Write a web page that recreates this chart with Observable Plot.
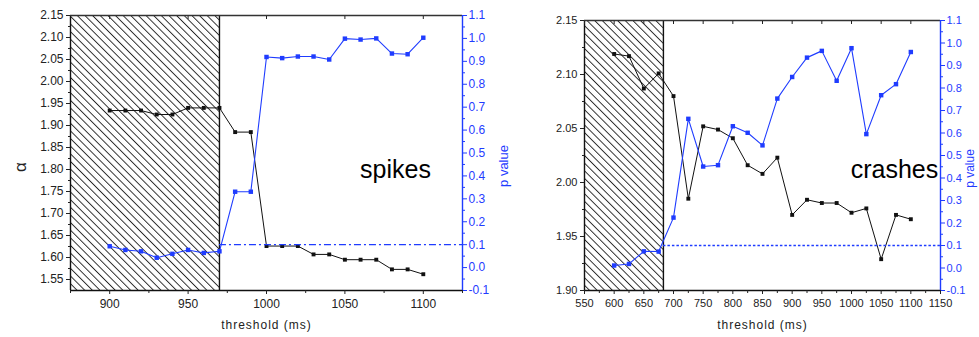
<!DOCTYPE html>
<html><head><meta charset="utf-8">
<script src="https://cdn.jsdelivr.net/npm/d3@7"></script>
<script src="https://cdn.jsdelivr.net/npm/@observablehq/plot@0.6"></script>
<style>
body{margin:0;background:#fff;}
#wrap{position:relative;width:979px;height:337px;overflow:hidden;background:#fff;}
#wrap svg{position:absolute;top:0;}
</style></head><body>
<svg width="0" height="0" style="position:absolute"><defs>
<pattern id="hatch" patternUnits="userSpaceOnUse" width="5.4" height="10" patternTransform="rotate(-45)">
<line x1="0.5" y1="-1" x2="0.5" y2="11" stroke="#111" stroke-width="0.9"/></pattern></defs></svg>
<div id="wrap"></div>
<script>
// ---------- data ----------
const spikesThreshold = [900,910,920,930,940,950,960,970,980,990,1000,1010,1020,1030,1040,1050,1060,1070,1080,1090,1100];
const spikesAlpha = [1.934,1.934,1.934,1.925,1.925,1.940,1.940,1.940,1.885,1.885,1.626,1.626,1.626,1.607,1.607,1.595,1.595,1.595,1.573,1.573,1.562];
const spikesP = [0.093,0.077,0.071,0.043,0.060,0.077,0.064,0.071,0.331,0.331,0.919,0.914,0.921,0.921,0.908,0.999,0.995,1.000,0.934,0.931,1.003];
const crashesThreshold = [600,625,650,675,700,725,750,775,800,825,850,875,900,925,950,975,1000,1025,1050,1075,1100];
const crashesAlpha = [2.119,2.117,2.087,2.101,2.080,1.985,2.052,2.049,2.041,2.016,2.008,2.023,1.970,1.984,1.981,1.981,1.972,1.976,1.929,1.970,1.966];
const crashesP = [0.011,0.018,0.074,0.073,0.224,0.663,0.451,0.457,0.630,0.601,0.545,0.753,0.849,0.935,0.965,0.832,0.977,0.595,0.768,0.817,0.960];

const spikesXDomain = [875,1125];
const spikesAlphaDomain = [1.525,2.15];
const crashesXDomain = [550,1150];
const crashesAlphaDomain = [1.90,2.15];
const pDomain = [-0.1,1.1];

const spikesExcluded = [875,970];
const crashesExcluded = [550,683];
const significance = [0.1];

const spikesXTicks = [900,950,1000,1050,1100];
const spikesXMinor = [875,925,975,1025,1075,1125];
const crashesXTicks = [550,600,650,700,750,800,850,900,950,1000,1050,1100,1150];
const crashesXMinor = [575,625,675,725,775,825,875,925,975,1025,1075,1125];
const spikesAlphaTicks = [1.55,1.60,1.65,1.70,1.75,1.80,1.85,1.90,1.95,2.00,2.05,2.10,2.15];
const spikesAlphaMinor = [1.575,1.625,1.675,1.725,1.775,1.825,1.875,1.925,1.975,2.025,2.075,2.125];
const crashesAlphaTicks = [1.90,1.95,2.00,2.05,2.10,2.15];
const crashesAlphaMinor = [1.925,1.975,2.025,2.075,2.125];
const pTicks = [-0.1,0.0,0.1,0.2,0.3,0.4,0.5,0.6,0.7,0.8,0.9,1.0,1.1];
const pMinor = [-0.05,0.05,0.15,0.25,0.35,0.45,0.55,0.65,0.75,0.85,0.95,1.05];

const xTitle = "threshold (ms)";
const alphaTitle = "α";
const pTitle = "p value";

// ---------- drawing ----------
const BLUE = "#1f3cff";
const INK = "#111";
const FONT = "'Liberation Sans', Arial, sans-serif";
const wrap = document.getElementById("wrap");

function panel(cfg) {
  const common = {
    width: cfg.width, height: 337,
    marginLeft: cfg.mL, marginRight: cfg.mR, marginTop: cfg.mT, marginBottom: cfg.mB
  };
  const rows = cfg.thresholds.map((t, i) => ({t, a: cfg.alpha[i], p: cfg.p[i]}));
  const [x0, x1] = cfg.xDomain;
  const [y0, y1] = cfg.yDomain;
  const marks = [
    Plot.rect([cfg.excluded], {x1: d => d[0], x2: d => d[1], y1: y0, y2: y1, fill: "url(#hatch)"}),
    Plot.ruleX([cfg.excluded[1]], {stroke: INK, strokeWidth: 1.4}),
    Plot.ruleX([x0], {stroke: INK, strokeWidth: 1.4}),
    Plot.ruleY([y0], {stroke: INK, strokeWidth: 1.4}),
    Plot.ruleY([y1], {stroke: "#333", strokeWidth: 1.6}),
    Plot.axisY(cfg.yTicks, {tickSize: 4, tickPadding: 3, tickFormat: d => d.toFixed(2), label: null}),
    Plot.axisY(cfg.yMinor, {tickSize: 2, tickFormat: () => "", label: null}),
    Plot.axisX(cfg.xTicks, {tickSize: 4, tickPadding: 5, tickFormat: d => String(d), label: null}),
    Plot.axisX(cfg.xMinor, {tickSize: 3, tickFormat: () => "", label: null}),
    Plot.axisX(cfg.xTicks, {anchor: "top", tickSize: -3, tickFormat: () => "", label: null}),
    Plot.line(rows, {x: "t", y: "a", stroke: INK, strokeWidth: 1}),
    Plot.dot(rows, {x: "t", y: "a", symbol: "square", r: 2.2, fill: INK, stroke: "none"}),
    Plot.text([cfg.name], {frameAnchor: "right", textAnchor: "middle", lineAnchor: "middle", dx: cfg.nameDx, dy: cfg.nameDy, fontSize: 25, fill: "#000"}),
    Plot.text([xTitle], {frameAnchor: "bottom", textAnchor: "middle", lineAnchor: "middle", dy: 35, fontSize: 12, fill: "#222"})
  ];
  if (cfg.alphaLabel) {
    marks.push(Plot.text([alphaTitle], {frameAnchor: "left", textAnchor: "middle", lineAnchor: "middle", dx: -50, dy: 14, rotate: -90, fontSize: 17, fill: "#222"}));
  }
  const plotA = Plot.plot({
    ...common,
    x: {domain: cfg.xDomain},
    y: {domain: cfg.yDomain},
    style: {fontFamily: FONT, fontSize: cfg.fontSize + "px", color: "#222", background: "white"},
    marks
  });
  const plotB = Plot.plot({
    ...common,
    x: {domain: cfg.xDomain, axis: null},
    y: {domain: pDomain},
    style: {fontFamily: FONT, fontSize: cfg.fontSize + "px", color: BLUE, background: "transparent"},
    marks: [
      Plot.ruleX([x1], {stroke: BLUE, strokeWidth: 1.4}),
      Plot.axisY(pTicks, {anchor: "right", tickSize: 4, tickPadding: 2, tickFormat: d => d.toFixed(1), color: BLUE, label: null}),
      Plot.axisY(pMinor, {anchor: "right", tickSize: 2, tickFormat: () => "", color: BLUE, label: null}),
      Plot.ruleY(significance, {x1: cfg.excluded[1], x2: x1, stroke: BLUE, strokeWidth: cfg.sigWidth, strokeDasharray: cfg.sigDash}),
      Plot.line(rows, {x: "t", y: "p", stroke: BLUE, strokeWidth: 1.1}),
      Plot.dot(rows, {x: "t", y: "p", symbol: "square", r: 2.5, fill: BLUE, stroke: "none"}),
      Plot.text([pTitle], {frameAnchor: "right", textAnchor: "middle", lineAnchor: "middle", dx: cfg.pDx, dy: 13, rotate: -90, fontSize: cfg.pSize, fill: BLUE})
    ]
  });
  for (const p of [plotA, plotB]) {
    p.style.left = cfg.left + "px";
    wrap.appendChild(p);
  }
  d3.select(plotA).selectAll("text").filter(function(){ return this.textContent === xTitle; }).attr("letter-spacing", "1px");
}

panel({
  left: 0, width: 520, mL: 70, mR: 58, mT: 15, mB: 47,
  xDomain: spikesXDomain, yDomain: spikesAlphaDomain,
  xTicks: spikesXTicks, xMinor: spikesXMinor,
  yTicks: spikesAlphaTicks, yMinor: spikesAlphaMinor,
  thresholds: spikesThreshold, alpha: spikesAlpha, p: spikesP,
  excluded: spikesExcluded, sigDash: "7,3,2,3", sigWidth: 1.2,
  name: "spikes", nameDx: -67, nameDy: 17, pDx: 41, pSize: 13, fontSize: 12, alphaLabel: true
});
panel({
  left: 520, width: 459, mL: 64, mR: 39, mT: 20, mB: 47,
  xDomain: crashesXDomain, yDomain: crashesAlphaDomain,
  xTicks: crashesXTicks, xMinor: crashesXMinor,
  yTicks: crashesAlphaTicks, yMinor: crashesAlphaMinor,
  thresholds: crashesThreshold, alpha: crashesAlpha, p: crashesP,
  excluded: crashesExcluded, sigDash: "2.5,2", sigWidth: 1.6,
  name: "crashes", nameDx: -46, nameDy: 14, pDx: 30, pSize: 12, fontSize: 11, alphaLabel: false
});
</script>
</body></html>
